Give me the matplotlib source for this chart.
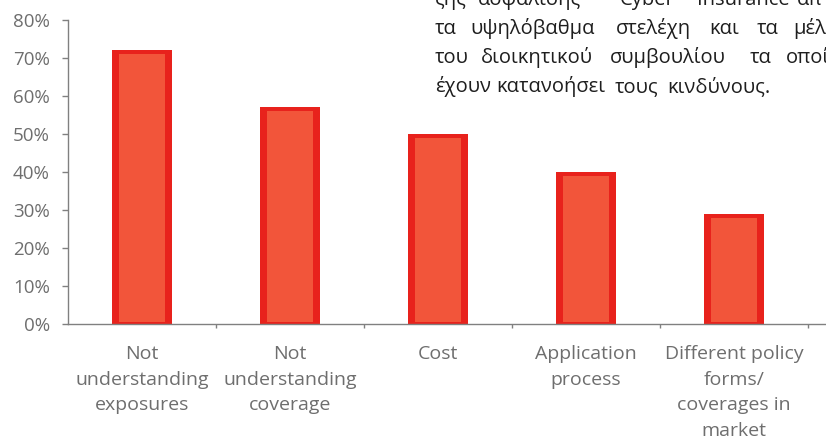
import numpy as np
import matplotlib
matplotlib.use('Agg')
import matplotlib.pyplot as plt
from matplotlib.ticker import PercentFormatter, FixedLocator

categories = ['Not\nunderstanding\nexposures', 'Not\nunderstanding\ncoverage', 'Cost',
              'Application\nprocess', 'Different policy\nforms/\ncoverages in\nmarket']
values = [0.72, 0.57, 0.50, 0.40, 0.29]

# greek paragraph (justified lines, cut off at the top and right edge of the scan)
greek_lines = [
    ['ςης', 'ασφάλισης', 'Cyber', 'Insurance', 'απ'],
    ['τα', 'υψηλόβαθμα', 'στελέχη', 'και', 'τα', 'μέλ'],
    ['του', 'διοικητικού', 'συμβουλίου', 'τα', 'οποί'],
    ['έχουν', 'κατανοήσει', 'τους', 'κινδύνους.'],
]
word_x = [
    [435, 478, 620, 697, 797],
    [435, 470, 616, 709, 757, 793],
    [435, 481, 610, 750, 786],
    [435, 496, 615, 667],
]
line_y = [5, 34, 63, 92]

plt.rcParams['font.family'] = ['Open Sans', 'DejaVu Sans']

W, H = 826, 445
fig = plt.figure(figsize=(W / 100, H / 100), dpi=100)
ax = fig.add_axes([68 / W, 1 - 324 / H, (W - 68) / W, (324 - 20) / H])

x = np.arange(len(categories))
vals = np.array(values)

# red outer bar, orange inner body
ax.bar(x, vals, width=0.405, color='#E8221C', zorder=2)
ax.bar(x, vals - 0.016, bottom=0.006, width=0.31, color='#F2553A', zorder=3)

ax.set_xlim(-0.5, 4.62)
ax.set_ylim(0, 0.8)
ax.yaxis.set_major_formatter(PercentFormatter(1.0, decimals=0))
ax.set_yticks(np.arange(0, 0.81, 0.1))

ax.set_xticks(x)
ax.set_xticklabels(categories, linespacing=1.55, va='top')
ax.xaxis.set_minor_locator(FixedLocator(np.arange(0.5, 4.6, 1.0)))

for s in ['top', 'right']:
    ax.spines[s].set_visible(False)
for s in ['left', 'bottom']:
    ax.spines[s].set_color('#808080')
    ax.spines[s].set_linewidth(1.0)

ax.tick_params(axis='y', colors='#808080', labelcolor='#6e6e6e', labelsize=13.5,
               length=4, width=1, pad=9)
ax.tick_params(axis='x', which='major', length=0, labelcolor='#6e6e6e',
               labelsize=14, pad=15)
ax.tick_params(axis='x', which='minor', length=3, width=1, colors='#808080')

for words, xs, y in zip(greek_lines, word_x, line_y):
    for w, xp in zip(words, xs):
        fig.text(xp / W, 1 - y / H, w, fontsize=14.5, color='#1e1e1e',
                 ha='left', va='baseline')

fig.savefig('out.png', dpi=100)
